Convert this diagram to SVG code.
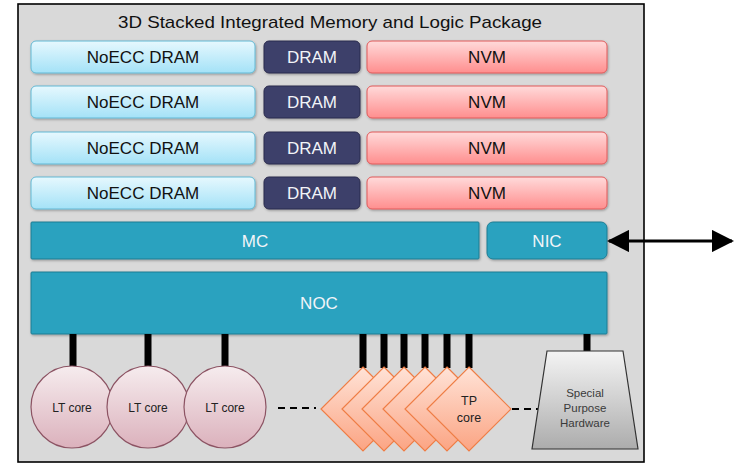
<svg xmlns="http://www.w3.org/2000/svg" width="734" height="463" viewBox="0 0 734 463">
  <defs>
    <linearGradient id="gNoecc" x1="0" y1="0" x2="0" y2="1">
      <stop offset="0" stop-color="#e6f8fe"/>
      <stop offset="1" stop-color="#a4e2f7"/>
    </linearGradient>
    <linearGradient id="gNvm" x1="0" y1="0" x2="0" y2="1">
      <stop offset="0" stop-color="#ffdada"/>
      <stop offset="1" stop-color="#ff8e8e"/>
    </linearGradient>
    <linearGradient id="gLt" x1="0" y1="0" x2="0" y2="1">
      <stop offset="0" stop-color="#f6ecee"/>
      <stop offset="1" stop-color="#dbb1bc"/>
    </linearGradient>
    <linearGradient id="gTp" x1="0" y1="0" x2="0" y2="1">
      <stop offset="0" stop-color="#ffe3d7"/>
      <stop offset="1" stop-color="#fba483"/>
    </linearGradient>
    <linearGradient id="gSp" x1="0" y1="0" x2="0" y2="1">
      <stop offset="0" stop-color="#f4f4f4"/>
      <stop offset="1" stop-color="#acacac"/>
    </linearGradient>
    <filter id="shadow" x="-5%" y="-20%" width="110%" height="150%">
      <feDropShadow dx="0.8" dy="1.2" stdDeviation="0.8" flood-color="#000" flood-opacity="0.3"/>
    </filter>
    <marker id="head" viewBox="0 0 10 10" refX="9" refY="5" markerWidth="7" markerHeight="7" orient="auto-start-reverse" markerUnits="strokeWidth">
      <path d="M0,0 L10,5 L0,10 Z" fill="#000"/>
    </marker>
    <style>
      text { font-family: "Liberation Sans", Arial, sans-serif; text-anchor: middle; }
      .big { font-size: 17px; }
      .noecc { fill: url(#gNoecc); stroke: #62b9d4; stroke-width: 1; filter: url(#shadow); }
      .dram { fill: #3d3f6b; stroke: #2b2c4d; stroke-width: 1; filter: url(#shadow); }
      .nvm { fill: url(#gNvm); stroke: #e05a5a; stroke-width: 1; filter: url(#shadow); }
      .teal { fill: #2aa2bf; stroke: #1f7d93; stroke-width: 1; filter: url(#shadow); }
      .lt { fill: url(#gLt); stroke: #8c5363; stroke-width: 1.2; }
      .tp { fill: url(#gTp); stroke: #ef7d45; stroke-width: 1.2; }
      .sp { fill: url(#gSp); stroke: #333; stroke-width: 1.2; }
      .dark { fill: #111; }
      .light { fill: #f2f4f8; }
      .small { font-size: 12px; fill: #222; }
      .tptext { font-size: 12.5px; fill: #222; }
      .sptext { font-size: 11.5px; fill: #3a3a3a; }
      .bar { stroke: #000; stroke-width: 7; }
      .dash { stroke: #000; stroke-width: 2.2; stroke-dasharray: 7 5; fill: none; }
    </style>
  </defs>

  <!-- package outline -->
  <g id="package">
    <rect x="18" y="4" width="626" height="458" fill="#d9d9d9" stroke="#000" stroke-width="1.6"/>
    <text x="330" y="28" class="big" fill="#111" textLength="424" lengthAdjust="spacingAndGlyphs">3D Stacked Integrated Memory and Logic Package</text>
  </g>

  <!-- memory rows -->
  <g id="noecc1"><rect class="noecc" x="31" y="41" width="224" height="32" rx="5"/><text class="big dark" x="143" y="63">NoECC DRAM</text></g>
  <g id="dram1"><rect class="dram" x="264" y="41" width="96" height="32" rx="5"/><text class="big light" x="312" y="63">DRAM</text></g>
  <g id="nvm1"><rect class="nvm" x="367" y="41" width="240" height="32" rx="5"/><text class="big dark" x="487" y="63">NVM</text></g>

  <g id="noecc2"><rect class="noecc" x="31" y="86" width="224" height="32" rx="5"/><text class="big dark" x="143" y="108">NoECC DRAM</text></g>
  <g id="dram2"><rect class="dram" x="264" y="86" width="96" height="32" rx="5"/><text class="big light" x="312" y="108">DRAM</text></g>
  <g id="nvm2"><rect class="nvm" x="367" y="86" width="240" height="32" rx="5"/><text class="big dark" x="487" y="108">NVM</text></g>

  <g id="noecc3"><rect class="noecc" x="31" y="132" width="224" height="32" rx="5"/><text class="big dark" x="143" y="154">NoECC DRAM</text></g>
  <g id="dram3"><rect class="dram" x="264" y="132" width="96" height="32" rx="5"/><text class="big light" x="312" y="154">DRAM</text></g>
  <g id="nvm3"><rect class="nvm" x="367" y="132" width="240" height="32" rx="5"/><text class="big dark" x="487" y="154">NVM</text></g>

  <g id="noecc4"><rect class="noecc" x="31" y="177" width="224" height="32" rx="5"/><text class="big dark" x="143" y="199">NoECC DRAM</text></g>
  <g id="dram4"><rect class="dram" x="264" y="177" width="96" height="32" rx="5"/><text class="big light" x="312" y="199">DRAM</text></g>
  <g id="nvm4"><rect class="nvm" x="367" y="177" width="240" height="32" rx="5"/><text class="big dark" x="487" y="199">NVM</text></g>

  <!-- controllers and network -->
  <g id="mc"><rect class="teal" x="31" y="222" width="448" height="37" rx="1"/><text class="big light" x="255" y="247">MC</text></g>
  <g id="nic"><rect class="teal" x="487" y="222" width="120" height="37" rx="6"/><text class="big light" x="547" y="247">NIC</text></g>
  <g id="noc"><rect class="teal" x="31" y="272" width="576" height="62" rx="1"/><text class="big light" x="319" y="309">NOC</text></g>

  <!-- connectors -->
  <g id="connectors">
    <line class="bar" x1="73" y1="334" x2="73" y2="366"/>
    <line class="bar" x1="148" y1="334" x2="148" y2="366"/>
    <line class="bar" x1="225" y1="334" x2="225" y2="366"/>
    <line class="bar" x1="363" y1="334" x2="363" y2="368"/>
    <line class="bar" x1="384" y1="334" x2="384" y2="368"/>
    <line class="bar" x1="404" y1="334" x2="404" y2="368"/>
    <line class="bar" x1="425" y1="334" x2="425" y2="368"/>
    <line class="bar" x1="447" y1="334" x2="447" y2="368"/>
    <line class="bar" x1="469" y1="334" x2="469" y2="368"/>
    <line class="bar" x1="587" y1="334" x2="587" y2="352"/>
    <line class="dash" x1="278" y1="408" x2="316" y2="408"/>
    <line class="dash" x1="512" y1="409" x2="538" y2="409"/>
    <line x1="609" y1="241" x2="732" y2="241" stroke="#000" stroke-width="3.2" marker-start="url(#head)" marker-end="url(#head)"/>
  </g>

  <!-- lightweight cores -->
  <g id="lt1"><circle class="lt" cx="72" cy="407" r="41"/><text class="small" x="72" y="412">LT core</text></g>
  <g id="lt2"><circle class="lt" cx="148" cy="407" r="41"/><text class="small" x="148" y="412">LT core</text></g>
  <g id="lt3"><circle class="lt" cx="225" cy="407" r="41"/><text class="small" x="225" y="412">LT core</text></g>

  <!-- throughput cores, stacked back to front; only the front one's label is visible -->
  <g id="tp1"><polygon class="tp" points="363,367 405,409 363,451 321,409"/></g>
  <g id="tp2"><polygon class="tp" points="384,367 426,409 384,451 342,409"/></g>
  <g id="tp3"><polygon class="tp" points="404,367 446,409 404,451 362,409"/></g>
  <g id="tp4"><polygon class="tp" points="425,367 467,409 425,451 383,409"/></g>
  <g id="tp5"><polygon class="tp" points="447,367 489,409 447,451 405,409"/></g>
  <g id="tp6"><polygon class="tp" points="469,367 511,409 469,451 427,409"/><text class="tptext" x="469" y="405">TP</text><text class="tptext" x="469" y="422">core</text></g>

  <!-- special purpose hardware -->
  <g id="special">
    <polygon class="sp" points="547,351 623,351 638,449 532,449"/>
    <text class="sptext" x="585" y="397">Special</text>
    <text class="sptext" x="585" y="412">Purpose</text>
    <text class="sptext" x="585" y="427">Hardware</text>
  </g>
</svg>
